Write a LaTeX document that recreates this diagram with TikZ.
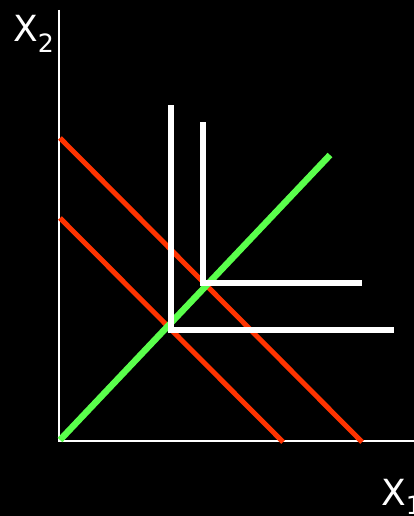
\documentclass[tikz,border=0pt]{standalone}
\usepackage{fontspec}
\setmainfont{DejaVu Sans}
\usepackage{tikz}

\begin{document}
\begin{tikzpicture}[x=1pt, y=-1pt,
    axis/.style={white, line width=1.5pt},
    budget/.style={red!60!orange, line width=5pt},
    ray/.style={green!90!lime!70!white, line width=6.5pt},
    corner/.style={white, line width=5.5pt},
    lab/.style={white, font=\fontsize{36}{36}\selectfont}]
    \fill[black] (0,0) rectangle (414,516);
    \useasboundingbox (0,0) rectangle (414,516);
    % axes
    \coordinate (o) at (59,441);
    \coordinate (ytop) at (59,10);
    \coordinate (xend) at (414,441);
    \draw[axis] (ytop) -- (o) -- (xend);
    \node[lab, anchor=base west, inner sep=0] (x2) at (13,42) {X\textsubscript{2}};
    \node[lab, anchor=base west, inner sep=0] (x1) at (381,505) {X\textsubscript{1}};
    % budget lines
    \coordinate (b1a) at (60,218);
    \coordinate (b1b) at (283,442);
    \coordinate (b2a) at (60,138);
    \coordinate (b2b) at (362,442);
    \draw[budget] (b1a) -- (b1b);
    \draw[budget] (b2a) -- (b2b);
    % expansion path
    \coordinate (r0) at (60,440);
    \coordinate (r1) at (330,155);
    \draw[ray] (r0) -- (r1);
    % indifference curves
    \coordinate (k1) at (171,330);
    \coordinate (k2) at (203,283);
    \draw[corner, line cap=rect] (171,108) -- (k1) -- (391,330);
    \draw[corner, line cap=rect] (203,125) -- (k2) -- (359,283);
\end{tikzpicture}
\end{document}
